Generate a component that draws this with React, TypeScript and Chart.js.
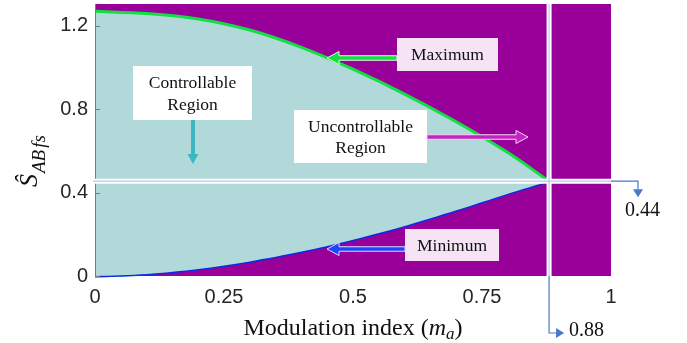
import React, { useEffect, useRef } from 'react';
import { Chart, registerables } from 'chart.js';

Chart.register(...registerables);

// ---- data ----
const modulationIndex = [0, 0.1, 0.2, 0.3, 0.4, 0.5, 0.6, 0.7, 0.8, 0.88];
const maximumValues = [1.27, 1.259, 1.233, 1.18, 1.097, 0.992, 0.873, 0.74, 0.592, 0.455];
const minimumValues = [0, 0.01, 0.034, 0.07, 0.117, 0.174, 0.24, 0.315, 0.395, 0.455];
const xTickValues = [0, 0.25, 0.5, 0.75, 1];
const yTickValues = [0, 0.4, 0.8, 1.2];
const boundaryM = 0.88;
const boundaryS = 0.455;
const boundaryMLabel = '0.88';
const boundarySLabel = '0.44';
const annotationTexts = {
  controllable: ['Controllable', 'Region'],
  uncontrollable: ['Uncontrollable', 'Region'],
  maximum: 'Maximum',
  minimum: 'Minimum',
};

const PURPLE = '#990099';
const TEAL = '#b1d9da';
const GREEN = '#12e040';
const BLUE = '#0a2ce6';
const CONNECT = '#4a78c8';
const SERIF = '"Liberation Serif", "Times New Roman", serif';
const SANS = '"Liberation Sans", Arial, sans-serif';

function drawArrow(
  ctx: CanvasRenderingContext2D,
  x1: number, y1: number, x2: number, y2: number,
  color: string, shaftW: number, headLen: number, headW: number, outline: string | null
) {
  const len = Math.hypot(x2 - x1, y2 - y1);
  const dx = (x2 - x1) / len, dy = (y2 - y1) / len;
  const nx = -dy, ny = dx;
  const bx = x2 - dx * headLen, by = y2 - dy * headLen;
  const s = shaftW / 2, h = headW / 2;
  ctx.save();
  ctx.beginPath();
  ctx.moveTo(x1 + nx * s, y1 + ny * s);
  ctx.lineTo(bx + nx * s, by + ny * s);
  ctx.lineTo(bx + nx * h, by + ny * h);
  ctx.lineTo(x2, y2);
  ctx.lineTo(bx - nx * h, by - ny * h);
  ctx.lineTo(bx - nx * s, by - ny * s);
  ctx.lineTo(x1 - nx * s, y1 - ny * s);
  ctx.closePath();
  ctx.fillStyle = color;
  ctx.fill();
  if (outline) {
    ctx.strokeStyle = outline;
    ctx.lineWidth = 1;
    ctx.stroke();
  }
  ctx.restore();
}

function box(ctx: CanvasRenderingContext2D, x: number, y: number, w: number, h: number, fill: string) {
  ctx.fillStyle = fill;
  ctx.fillRect(x, y, w, h);
}

function centerText(ctx: CanvasRenderingContext2D, t: string, x: number, y: number) {
  ctx.textAlign = 'center';
  ctx.textBaseline = 'middle';
  ctx.fillText(t, x, y);
}

const decorPlugin = {
  id: 'decor',
  beforeDraw(chart: any) {
    const { ctx, chartArea: a } = chart;
    ctx.save();
    ctx.fillStyle = PURPLE;
    ctx.fillRect(a.left, a.top, a.right - a.left, a.bottom - a.top);
    ctx.restore();
  },
  afterDraw(chart: any) {
    const { ctx, chartArea: a, scales } = chart;
    const xs = scales.x, ys = scales.y;
    const bx = xs.getPixelForValue(boundaryM);
    const by = ys.getPixelForValue(boundaryS);
    ctx.save();

    // axes
    ctx.strokeStyle = '#7a7a7a';
    ctx.lineWidth = 1;
    ctx.beginPath();
    ctx.moveTo(a.left + 0.5, a.top);
    ctx.lineTo(a.left + 0.5, a.bottom);
    ctx.stroke();
    yTickValues.forEach((v) => {
      const py = Math.round(ys.getPixelForValue(v)) + 0.5;
      ctx.beginPath();
      ctx.moveTo(a.left, py);
      ctx.lineTo(a.left + 5, py);
      ctx.stroke();
    });

    // boundary white bands
    ctx.strokeStyle = '#ffffff';
    ctx.lineWidth = 5;
    ctx.beginPath();
    ctx.moveTo(a.left - 2, by);
    ctx.lineTo(a.right, by);
    ctx.moveTo(bx, a.top);
    ctx.lineTo(bx, a.bottom);
    ctx.stroke();
    ctx.strokeStyle = '#b9c6ee';
    ctx.lineWidth = 1.2;
    ctx.beginPath();
    ctx.moveTo(a.left - 2, by);
    ctx.lineTo(a.right, by);
    ctx.moveTo(bx, a.top);
    ctx.lineTo(bx, a.bottom);
    ctx.stroke();

    // connectors to value labels
    ctx.strokeStyle = CONNECT;
    ctx.lineWidth = 1.2;
    ctx.beginPath();
    ctx.moveTo(a.right, by);
    ctx.lineTo(a.right + 27, by);
    ctx.lineTo(a.right + 27, by + 8);
    ctx.moveTo(bx, a.bottom);
    ctx.lineTo(bx, a.bottom + 57);
    ctx.lineTo(bx + 8, a.bottom + 57);
    ctx.stroke();
    ctx.fillStyle = CONNECT;
    ctx.beginPath();
    ctx.moveTo(a.right + 22, by + 8);
    ctx.lineTo(a.right + 32, by + 8);
    ctx.lineTo(a.right + 27, by + 16);
    ctx.closePath();
    ctx.fill();
    ctx.beginPath();
    ctx.moveTo(bx + 7, a.bottom + 52);
    ctx.lineTo(bx + 7, a.bottom + 62);
    ctx.lineTo(bx + 15, a.bottom + 57);
    ctx.closePath();
    ctx.fill();
    ctx.fillStyle = '#111111';
    ctx.font = `20px ${SERIF}`;
    ctx.textAlign = 'left';
    ctx.textBaseline = 'middle';
    ctx.fillText(boundarySLabel, a.right + 14, by + 30);
    ctx.fillText(boundaryMLabel, bx + 20, a.bottom + 55);

    // annotations
    ctx.font = `17.5px ${SERIF}`;
    // controllable
    box(ctx, 133, 66, 119, 54, '#ffffff');
    ctx.fillStyle = '#111111';
    centerText(ctx, annotationTexts.controllable[0], 192.5, 83);
    centerText(ctx, annotationTexts.controllable[1], 192.5, 105);
    drawArrow(ctx, 193, 120, 193, 164, '#3cb8c2', 4, 10, 11, null);

    // maximum
    box(ctx, 397, 38, 101, 33, '#f6e4f6');
    ctx.fillStyle = '#111111';
    centerText(ctx, annotationTexts.maximum, 447.5, 55);
    drawArrow(ctx, 397, 58, 327, 58, GREEN, 4.5, 12, 13, '#e6f7e6');

    // uncontrollable
    box(ctx, 294, 110, 133, 53, '#ffffff');
    ctx.fillStyle = '#111111';
    centerText(ctx, annotationTexts.uncontrollable[0], 360.5, 127);
    centerText(ctx, annotationTexts.uncontrollable[1], 360.5, 148);
    drawArrow(ctx, 427, 137, 528, 137, '#c224c2', 4.5, 12, 13, '#f2d6f2');

    // minimum
    box(ctx, 405, 229, 94, 32, '#f6e4f6');
    ctx.fillStyle = '#111111';
    centerText(ctx, annotationTexts.minimum, 452, 246);
    drawArrow(ctx, 405, 249, 327, 249, '#2244ff', 4.5, 12, 13, '#d6ddff');

    // x-axis title
    const parts: [string, string, number][] = [
      ['Modulation index (', `24px ${SERIF}`, 0],
      ['m', `italic 24px ${SERIF}`, 0],
      ['a', `italic 17px ${SERIF}`, 4],
      [')', `24px ${SERIF}`, 0],
    ];
    let total = 0;
    parts.forEach(([t, f]) => { ctx.font = f; total += ctx.measureText(t).width; });
    let cx = (a.left + a.right) / 2 - total / 2;
    ctx.textAlign = 'left';
    ctx.textBaseline = 'alphabetic';
    ctx.fillStyle = '#111111';
    parts.forEach(([t, f, dy]) => {
      ctx.font = f;
      ctx.fillText(t, cx, 335 + dy);
      cx += ctx.measureText(t).width;
    });

    // y-axis title (rotated)
    ctx.translate(37, 187);
    ctx.rotate(-Math.PI / 2);
    ctx.font = `italic 26px ${SERIF}`;
    ctx.fillText('\u015C', 0, 0);
    const sw = ctx.measureText('\u015C').width;
    ctx.font = `italic 19px ${SERIF}`;
    ctx.fillText('AB', sw + 1, 8);
    const abw = ctx.measureText('AB').width;
    ctx.fillText('fs', sw + abw + 3, 8);
    ctx.restore();
  },
};

export default function App() {
  const ref = useRef<HTMLCanvasElement | null>(null);
  useEffect(() => {
    if (!ref.current) return;
    const chart = new Chart(ref.current, {
      type: 'line',
      data: {
        datasets: [
          {
            label: 'Maximum',
            data: modulationIndex.map((m, i) => ({ x: m, y: maximumValues[i] })),
            borderColor: GREEN,
            borderWidth: 3,
            backgroundColor: TEAL,
            fill: '+1',
            pointRadius: 0,
            tension: 0.3,
            clip: 4,
          },
          {
            label: 'Minimum',
            data: modulationIndex.map((m, i) => ({ x: m, y: minimumValues[i] })),
            borderColor: BLUE,
            borderWidth: 3,
            backgroundColor: TEAL,
            fill: false,
            pointRadius: 0,
            tension: 0.3,
            clip: 4,
          },
        ],
      },
      options: {
        responsive: false,
        animation: false,
        layout: { padding: { top: 4, right: 76, left: 0, bottom: 0 } },
        plugins: { legend: { display: false }, tooltip: { enabled: false } },
        scales: {
          x: {
            type: 'linear',
            min: 0,
            max: 1,
            afterBuildTicks: (s: any) => { s.ticks = xTickValues.map((v) => ({ value: v })); },
            afterFit: (s: any) => { s.height = 67; s.paddingLeft = 0; s.paddingRight = 0; },
            grid: { display: false, drawTicks: false },
            border: { display: false },
            ticks: {
              padding: 9,
              color: '#262626',
              font: { family: SANS, size: 20 },
              callback: (v: any) => String(v),
              maxRotation: 0,
            },
          },
          y: {
            type: 'linear',
            min: 0,
            max: 1.305,
            afterBuildTicks: (s: any) => { s.ticks = yTickValues.map((v) => ({ value: v })); },
            afterFit: (s: any) => { s.width = 95; s.paddingTop = 0; s.paddingBottom = 0; },
            grid: { display: false, drawTicks: false },
            border: { display: false },
            ticks: {
              padding: 7,
              color: '#262626',
              font: { family: SANS, size: 20 },
              callback: (v: any) => String(v),
            },
          },
        },
      },
      plugins: [decorPlugin],
    } as any);
    return () => chart.destroy();
  }, []);
  return (
    <div style={{ position: 'absolute', left: 0, top: 0, width: 687, height: 343, background: '#ffffff' }}>
      <canvas ref={ref} width={687} height={343} style={{ display: 'block' }} />
    </div>
  );
}
